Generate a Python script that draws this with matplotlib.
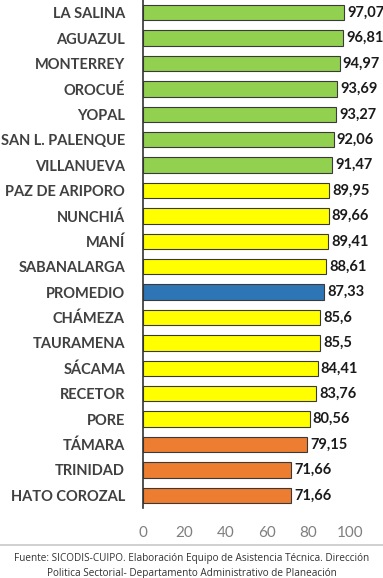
import matplotlib
matplotlib.use('Agg')
import matplotlib.pyplot as plt
from matplotlib.lines import Line2D

municipios = ['LA SALINA', 'AGUAZUL', 'MONTERREY', 'OROCUÉ', 'YOPAL',
              'SAN L. PALENQUE', 'VILLANUEVA', 'PAZ DE ARIPORO', 'NUNCHIÁ',
              'MANÍ', 'SABANALARGA', 'PROMEDIO', 'CHÁMEZA', 'TAURAMENA',
              'SÁCAMA', 'RECETOR', 'PORE', 'TÁMARA', 'TRINIDAD', 'HATO COROZAL']
valores = [97.07, 96.81, 94.97, 93.69, 93.27, 92.06, 91.47, 89.95, 89.66,
           89.41, 88.61, 87.33, 85.6, 85.5, 84.41, 83.76, 80.56, 79.15,
           71.66, 71.66]
etiquetas = ['97,07', '96,81', '94,97', '93,69', '93,27', '92,06', '91,47',
             '89,95', '89,66', '89,41', '88,61', '87,33', '85,6', '85,5',
             '84,41', '83,76', '80,56', '79,15', '71,66', '71,66']
grupos = ['alto'] * 7 + ['medio'] * 4 + ['promedio'] + ['medio'] * 5 + ['bajo'] * 3
xticks = [0, 20, 40, 60, 80, 100]
fuente = ('Fuente: SICODIS-CUIPO. Elaboración Equipo de Asistencia Técnica. Dirección\n'
          'Politica Sectorial- Departamento Administrativo de Planeación')

colores = {'alto': '#92D050', 'medio': '#FFFF00', 'promedio': '#2E75B6', 'bajo': '#ED7D31'}

W, H = 383, 578
fig = plt.figure(figsize=(W / 100, H / 100), dpi=100)
ax = fig.add_axes([143 / W, 1 - 508 / H, (350 - 143) / W, 508 / H])

y = list(range(len(municipios)))
ax.barh(y, valores, height=0.6, color=[colores[g] for g in grupos],
        edgecolor='#3a3a3a', linewidth=0.8, zorder=2)
for yi, v, t in zip(y, valores, etiquetas):
    ax.text(v + 1.5, yi, t, va='center', ha='left', fontsize=10.5,
            fontweight='bold', family='Lato', color='#1a1a1a')

ax.set_ylim(len(municipios) - 0.5, -0.5)
ax.set_xlim(0, 100)
ax.set_yticks(y)
ax.set_yticklabels(municipios, fontsize=10.5, fontweight='bold', family='Lato',
                   color='#404040')
ax.set_xticks(xticks)
ax.set_xticklabels([str(t) for t in xticks], fontsize=11, family='Lato',
                   color='#7f7f7f')
ax.tick_params(axis='y', length=0, pad=13)
ax.tick_params(axis='x', length=0, pad=13)
for s in ['top', 'right', 'bottom']:
    ax.spines[s].set_visible(False)
ax.spines['left'].set_color('#333333')
ax.spines['left'].set_linewidth(1.2)

fig.add_artist(Line2D([0, 1], [1 - 545 / H, 1 - 545 / H], color='#c8c8c8',
                      linewidth=1.2, transform=fig.transFigure))
fig.text(0.5, 1 - 566 / H, fuente, ha='center', va='center', fontsize=7.2,
         family='Open Sans', color='#333333', linespacing=1.45)

fig.savefig('out.png', dpi=100, facecolor='white')
plt.close(fig)
